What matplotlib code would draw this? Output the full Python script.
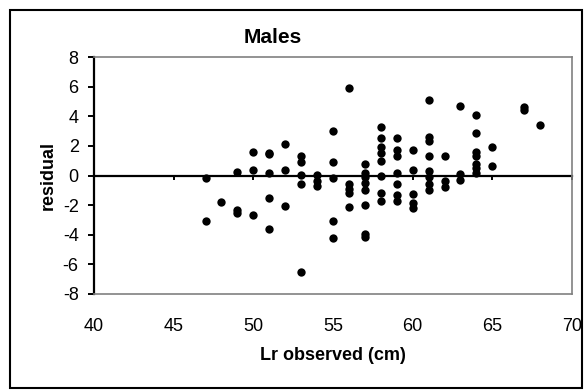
import matplotlib
matplotlib.use("Agg")
import matplotlib.pyplot as plt
from matplotlib.patches import Rectangle

plt.rcParams["font.family"] = ["Liberation Sans", "DejaVu Sans"]
plt.rcParams["axes.unicode_minus"] = False

# observed Lr (cm) and residuals
lr = ([47, 47, 48, 49, 49, 49,
       50, 50, 50, 51, 51, 51, 51, 51, 52, 52, 52,
       53, 53, 53, 53, 53, 54, 54, 54,
       55, 55, 55, 55, 55, 56, 56, 56, 56, 56]
      + [57] * 8 + [58] * 8 + [59] * 7 + [60] * 5 + [61] * 8
      + [62, 62, 62, 63, 63, 63]
      + [64] * 7 + [65, 65, 67, 67, 68])
resid = ([-0.2, -3.1, -1.8, 0.25, -2.3, -2.5,
          1.6, 0.35, -2.7, 1.5, 1.45, 0.2, -1.5, -3.6, 2.1, 0.35, -2.05,
          1.3, 0.9, 0.05, -0.6, -6.5, 0.05, -0.35, -0.7,
          3.0, 0.9, -0.15, -3.1, -4.2, 5.9, -0.6, -0.9, -1.2, -2.1]
         + [0.8, 0.2, -0.1, -0.5, -1.0, -2.0, -3.95, -4.15]
         + [3.3, 2.5, 1.9, 1.5, 1.0, 0.0, -1.2, -1.7]
         + [2.55, 1.7, 1.3, 0.2, -0.6, -1.3, -1.75]
         + [1.7, 0.4, -1.25, -1.85, -2.2]
         + [5.1, 2.6, 2.3, 1.35, 0.3, -0.1, -0.6, -1.0]
         + [1.35, -0.4, -0.8, 4.7, 0.1, -0.3]
         + [4.1, 2.85, 1.6, 1.3, 0.75, 0.5, 0.15]
         + [1.9, 0.65, 4.4, 4.6, 3.4])

x_ticks = [40, 45, 50, 55, 60, 65, 70]
y_ticks = [-8, -6, -4, -2, 0, 2, 4, 6, 8]

fig = plt.figure(figsize=(5.85, 3.91), dpi=100)
ax = fig.add_axes([0.1607, 0.2481, 0.8171, 0.6061])

ax.plot(lr, resid, "o", color="black", ms=6, mew=0, zorder=3)

ax.set_xlim(40, 70)
ax.set_ylim(-8, 8)
ax.set_xticks(x_ticks)
ax.set_yticks(y_ticks)

for s in ["top", "right", "bottom"]:
    ax.spines[s].set_color("#808080")
    ax.spines[s].set_linewidth(1.2)
ax.spines["left"].set_linewidth(1.6)
ax.tick_params(axis="x", length=0, pad=17, labelsize=13)
ax.tick_params(axis="y", length=4, width=1.4, pad=7, labelsize=13)

# x axis line crosses at zero
sec = ax.secondary_xaxis(0.5)
sec.set_alignment("bottom")
sec.set_xticks(x_ticks)
sec.spines["bottom"].set_linewidth(1.6)
sec.tick_params(axis="x", direction="out", length=3, width=1.4, labelbottom=False)

ax.set_xlabel("Lr observed (cm)", fontsize=13, fontweight="bold", labelpad=9)
ax.set_ylabel("residual", fontsize=13, fontweight="bold", labelpad=4)
fig.text(0.467, 0.905, "Males", ha="center", va="center", fontsize=15, fontweight="bold")

fig.patches.append(Rectangle((10 / 585, 3 / 391), 572 / 585, 378 / 391,
                             transform=fig.transFigure, fill=False,
                             edgecolor="black", lw=1.5))

fig.savefig("out.png", dpi=100)
